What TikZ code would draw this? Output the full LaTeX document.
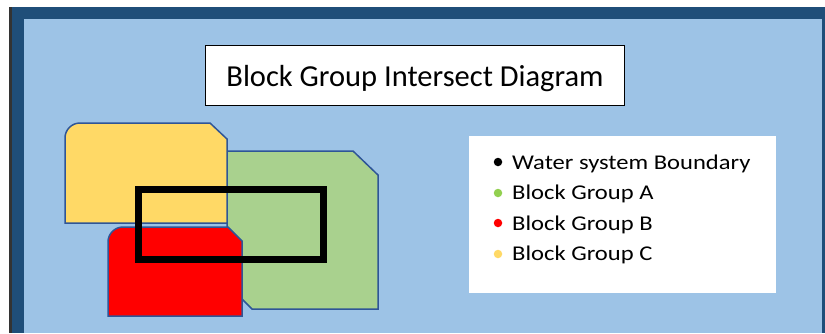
\documentclass[tikz,border=0pt]{standalone}
\usepackage{fontspec}
\setmainfont{Carlito}
\newfontfamily\legfont[FakeStretch=1.17]{Carlito}
\definecolor{frameblue}{HTML}{1F4E79}
\definecolor{bgblue}{HTML}{9DC3E6}
\definecolor{outl}{HTML}{2F5597}
\definecolor{grpA}{HTML}{A9D18E}
\definecolor{grpC}{HTML}{FFD966}
\definecolor{dotA}{HTML}{92D050}
\tikzset{
  grp/.style={draw=outl, line width=1.5pt, line join=miter},
  legtext/.style={anchor=base west, inner sep=0pt, font=\legfont\fontsize{21}{24}\selectfont},
  legdot/.style={circle, inner sep=0pt, minimum size=8.5pt},
}
\begin{document}
\begin{tikzpicture}[x=1pt,y=-1pt]
\useasboundingbox (0,0) rectangle (825,333);
\fill[white] (0,0) rectangle (825,333);
\fill[frameblue] (9,7) rectangle (825,333);
\fill[black!80] (9,7) rectangle (12,333);
\fill[bgblue] (24,19) rectangle (822,333);
% title
\node[draw=black, line width=1.5pt, fill=white, minimum width=419pt, minimum height=60pt, inner sep=0pt] (title) at (415,75.5) {};
\node[anchor=base, inner sep=0pt, font=\fontsize{30.5}{34}\selectfont] (titletext) at (415,86.7) {Block Group Intersect Diagram};
% block group A (green)
\path[grp, fill=grpA] (227,151) -- (353,151) -- (378,175) -- (378,309) -- (252,309) -- (227,284) -- cycle;
% block group C (yellow)
\path[grp, fill=grpC] (65,223) -- (65,138) arc[start angle=180, end angle=270, radius=15] -- (210,123) -- (227,139) -- (227,223) -- cycle;
% block group B (red)
\path[grp, fill=red] (108,316) -- (108,242) arc[start angle=180, end angle=270, radius=15] -- (228,227) -- (242,241) -- (242,316) -- cycle;
% water system boundary
\draw[line width=7pt, line join=miter] (138,189.5) rectangle (323.5,259.5);
% legend
\node[fill=white, minimum width=307pt, minimum height=157pt, inner sep=0pt] (legend) at (622.5,214.5) {};
\node[legdot, fill=black] (d1) at (498,162) {};
\node[legdot, fill=dotA] (d2) at (498,193) {};
\node[legdot, fill=red] (d3) at (498,223) {};
\node[legdot, fill=grpC] (d4) at (498,254) {};
\node[legtext] (t1) at (512,169.3) {Water system Boundary};
\node[legtext] (t2) at (512,199.8) {Block Group A};
\node[legtext] (t3) at (512,230.3) {Block Group B};
\node[legtext] (t4) at (512,260.8) {Block Group C};
\end{tikzpicture}
\end{document}
